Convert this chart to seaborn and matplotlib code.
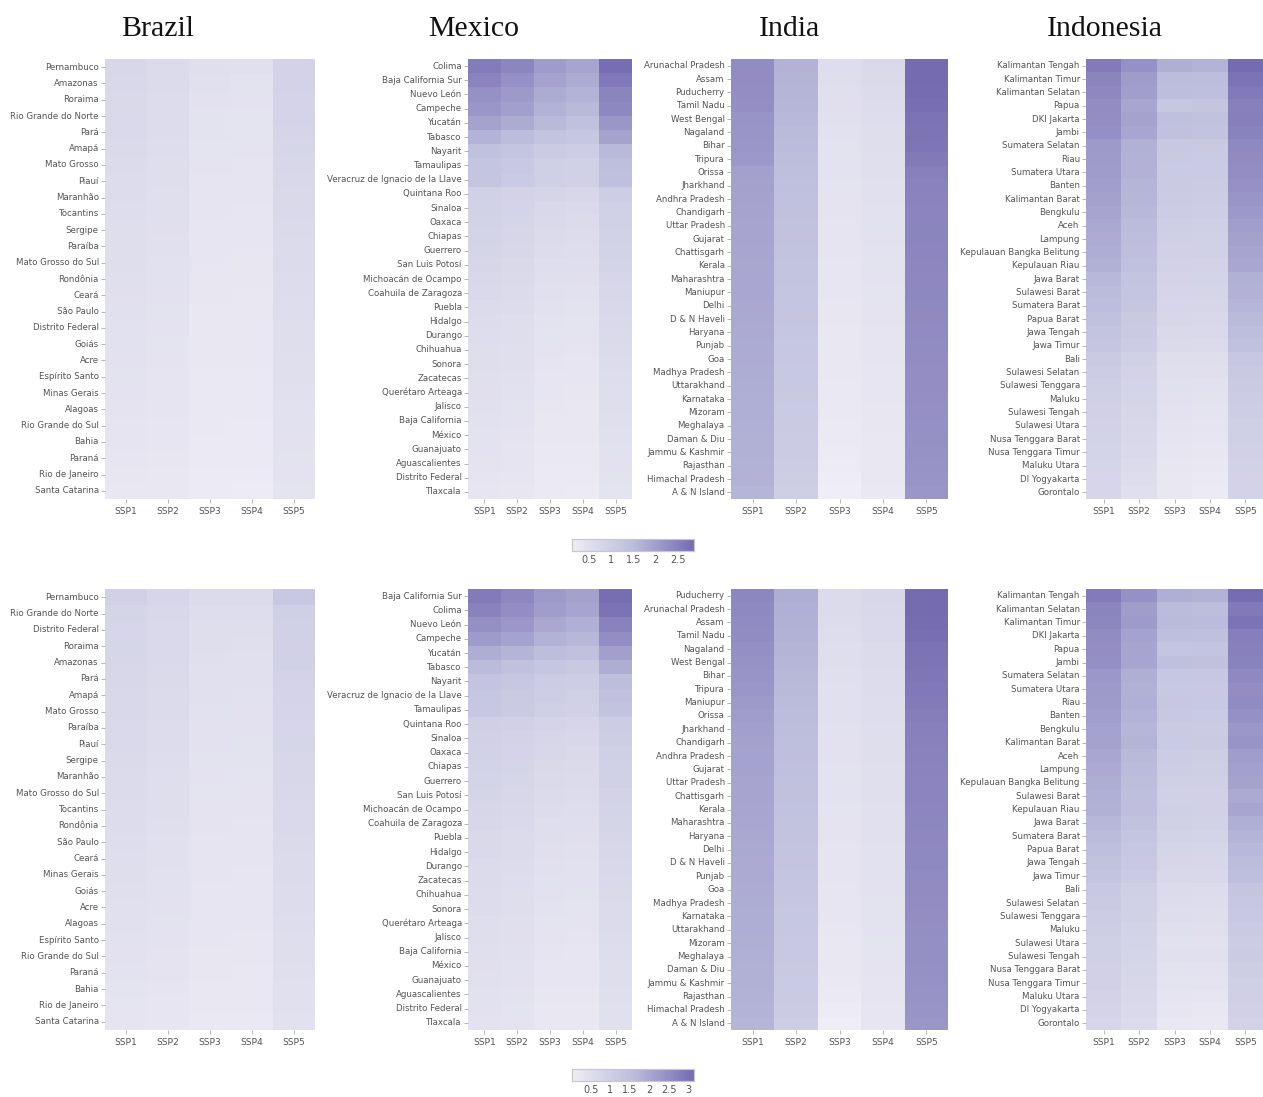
import numpy as np
import pandas as pd
import matplotlib
matplotlib.use("Agg")
import matplotlib.pyplot as plt
from matplotlib.colors import LinearSegmentedColormap
from matplotlib.ticker import FuncFormatter
import seaborn as sns

scenarios = ["SSP1", "SSP2", "SSP3", "SSP4", "SSP5"]
countries = ["Brazil", "Mexico", "India", "Indonesia"]

# ---------------- top row ----------------
brazil_top = ["Pernambuco", "Amazonas", "Roraima", "Rio Grande do Norte", "Pará", "Amapá",
              "Mato Grosso", "Piauí", "Maranhão", "Tocantins", "Sergipe", "Paraíba",
              "Mato Grosso do Sul", "Rondônia", "Ceará", "São Paulo", "Distrito Federal",
              "Goiás", "Acre", "Espírito Santo", "Minas Gerais", "Alagoas",
              "Rio Grande do Sul", "Bahia", "Paraná", "Rio de Janeiro", "Santa Catarina"]
brazil_top_ssp1 = [0.74, 0.72, 0.70, 0.69, 0.68, 0.65, 0.63, 0.61, 0.59, 0.58, 0.56, 0.55, 0.53, 0.52,
                   0.50, 0.49, 0.47, 0.46, 0.45, 0.43, 0.42, 0.40, 0.38, 0.37, 0.35, 0.32, 0.30]
brazil_top_ssp2 = [0.64, 0.63, 0.61, 0.60, 0.59, 0.57, 0.55, 0.54, 0.52, 0.51, 0.50, 0.48, 0.47, 0.46,
                   0.45, 0.43, 0.42, 0.41, 0.40, 0.38, 0.37, 0.36, 0.34, 0.33, 0.32, 0.30, 0.28]
brazil_top_ssp3 = [0.52, 0.48, 0.45, 0.44, 0.43, 0.41, 0.40, 0.38, 0.37, 0.36, 0.35, 0.34, 0.33, 0.32,
                   0.31, 0.30, 0.29, 0.28, 0.27, 0.26, 0.25, 0.25, 0.24, 0.23, 0.22, 0.20, 0.19]
brazil_top_ssp4 = [0.48, 0.44, 0.42, 0.41, 0.41, 0.40, 0.38, 0.37, 0.36, 0.35, 0.34, 0.33, 0.32, 0.31,
                   0.30, 0.29, 0.28, 0.27, 0.27, 0.26, 0.25, 0.24, 0.23, 0.22, 0.21, 0.19, 0.18]
brazil_top_ssp5 = [0.88, 0.86, 0.85, 0.83, 0.82, 0.78, 0.75, 0.72, 0.70, 0.68, 0.66, 0.64, 0.62, 0.61,
                   0.59, 0.57, 0.56, 0.54, 0.52, 0.51, 0.49, 0.47, 0.46, 0.45, 0.43, 0.42, 0.41]

mexico_top = ["Colima", "Baja California Sur", "Nuevo León", "Campeche", "Yucatán", "Tabasco",
              "Nayarit", "Tamaulipas", "Veracruz de Ignacio de la Llave", "Quintana Roo", "Sinaloa",
              "Oaxaca", "Chiapas", "Guerrero", "San Luis Potosí", "Michoacán de Ocampo",
              "Coahuila de Zaragoza", "Puebla", "Hidalgo", "Durango", "Chihuahua", "Sonora",
              "Zacatecas", "Querétaro Arteaga", "Jalisco", "Baja California", "México",
              "Guanajuato", "Aguascalientes", "Distrito Federal", "Tlaxcala"]
mexico_top_ssp1 = [2.58, 2.45, 2.23, 2.14, 1.93, 1.65, 1.38, 1.27, 1.24, 0.94, 0.90, 0.86, 0.83, 0.80, 0.76, 0.72,
                   0.68, 0.64, 0.61, 0.58, 0.56, 0.54, 0.52, 0.50, 0.48, 0.46, 0.44, 0.42, 0.40, 0.37, 0.35]
mexico_top_ssp2 = [2.40, 2.23, 2.09, 1.98, 1.79, 1.49, 1.27, 1.16, 1.13, 0.88, 0.84, 0.80, 0.77, 0.74, 0.70, 0.66,
                   0.63, 0.59, 0.56, 0.54, 0.52, 0.50, 0.48, 0.46, 0.44, 0.42, 0.40, 0.38, 0.36, 0.34, 0.32]
mexico_top_ssp3 = [2.04, 1.93, 1.79, 1.68, 1.54, 1.29, 1.07, 0.99, 0.96, 0.80, 0.72, 0.68, 0.64, 0.60, 0.56, 0.52,
                   0.49, 0.46, 0.43, 0.41, 0.39, 0.37, 0.35, 0.33, 0.31, 0.30, 0.28, 0.26, 0.25, 0.23, 0.21]
mexico_top_ssp4 = [1.90, 1.79, 1.65, 1.54, 1.38, 1.21, 1.02, 0.94, 0.91, 0.74, 0.68, 0.64, 0.60, 0.57, 0.53, 0.50,
                   0.47, 0.44, 0.41, 0.39, 0.37, 0.35, 0.33, 0.31, 0.30, 0.28, 0.27, 0.25, 0.24, 0.22, 0.20]
mexico_top_ssp5 = [2.82, 2.64, 2.42, 2.37, 2.14, 1.93, 1.54, 1.43, 1.40, 1.02, 0.98, 0.94, 0.90, 0.87, 0.83, 0.79,
                   0.75, 0.71, 0.68, 0.65, 0.62, 0.60, 0.57, 0.55, 0.53, 0.51, 0.49, 0.47, 0.45, 0.43, 0.41]

india_top = ["Arunachal Pradesh", "Assam", "Puducherry", "Tamil Nadu", "West Bengal", "Nagaland",
             "Bihar", "Tripura", "Orissa", "Jharkhand", "Andhra Pradesh", "Chandigarh",
             "Uttar Pradesh", "Gujarat", "Chattisgarh", "Kerala", "Maharashtra", "Maniupur",
             "Delhi", "D & N Haveli", "Haryana", "Punjab", "Goa", "Madhya Pradesh",
             "Uttarakhand", "Karnataka", "Mizoram", "Meghalaya", "Daman & Diu",
             "Jammu & Kashmir", "Rajasthan", "Himachal Pradesh", "A & N Island"]
india_top_ssp1 = [2.31, 2.30, 2.29, 2.27, 2.17, 2.15, 2.14, 2.10, 1.97, 1.95, 1.93, 1.91, 1.90, 1.89, 1.88, 1.86, 1.85,
                  1.84, 1.83, 1.82, 1.80, 1.79, 1.78, 1.77, 1.75, 1.74, 1.73, 1.72, 1.71, 1.69, 1.68, 1.66, 1.62]
india_top_ssp2 = [1.66, 1.64, 1.62, 1.60, 1.55, 1.52, 1.50, 1.47, 1.43, 1.40, 1.38, 1.36, 1.35, 1.33, 1.32, 1.30, 1.29,
                  1.27, 1.26, 1.24, 1.23, 1.21, 1.20, 1.18, 1.17, 1.15, 1.13, 1.11, 1.09, 1.07, 1.05, 1.03, 1.00]
india_top_ssp3 = [0.58, 0.55, 0.52, 0.50, 0.48, 0.46, 0.44, 0.43, 0.42, 0.41, 0.40, 0.39, 0.38, 0.37, 0.36, 0.35, 0.34,
                  0.33, 0.32, 0.31, 0.30, 0.29, 0.28, 0.27, 0.26, 0.25, 0.24, 0.23, 0.21, 0.19, 0.17, 0.14, 0.11]
india_top_ssp4 = [0.69, 0.66, 0.63, 0.61, 0.58, 0.56, 0.54, 0.52, 0.51, 0.49, 0.48, 0.47, 0.46, 0.45, 0.44, 0.43, 0.42,
                  0.41, 0.40, 0.39, 0.38, 0.37, 0.36, 0.35, 0.34, 0.33, 0.32, 0.31, 0.30, 0.29, 0.28, 0.27, 0.25]
india_top_ssp5 = [2.86, 2.85, 2.84, 2.80, 2.72, 2.70, 2.68, 2.62, 2.50, 2.48, 2.46, 2.44, 2.43, 2.42, 2.41, 2.39, 2.38,
                  2.37, 2.35, 2.34, 2.33, 2.31, 2.30, 2.29, 2.28, 2.26, 2.25, 2.23, 2.22, 2.21, 2.19, 2.17, 2.14]

indonesia_top = ["Kalimantan Tengah", "Kalimantan Timur", "Kalimantan Selatan", "Papua", "DKI Jakarta",
                 "Jambi", "Sumatera Selatan", "Riau", "Sumatera Utara", "Banten", "Kalimantan Barat",
                 "Bengkulu", "Aceh", "Lampung", "Kepulauan Bangka Belitung", "Kepulauan Riau",
                 "Jawa Barat", "Sulawesi Barat", "Sumatera Barat", "Papua Barat", "Jawa Tengah",
                 "Jawa Timur", "Bali", "Sulawesi Selatan", "Sulawesi Tenggara", "Maluku",
                 "Sulawesi Tengah", "Sulawesi Utara", "Nusa Tenggara Barat", "Nusa Tenggara Timur",
                 "Maluku Utara", "DI Yogyakarta", "Gorontalo"]
indonesia_top_ssp1 = [2.59, 2.42, 2.38, 2.31, 2.28, 2.25, 2.09, 2.07, 2.04, 2.00, 1.95, 1.90, 1.82, 1.78, 1.75, 1.70, 1.55,
                      1.50, 1.45, 1.38, 1.30, 1.25, 1.10, 1.05, 1.00, 0.96, 0.93, 0.90, 0.87, 0.84, 0.81, 0.79, 0.76]
indonesia_top_ssp2 = [2.23, 2.04, 2.00, 1.87, 1.93, 1.88, 1.70, 1.68, 1.66, 1.62, 1.60, 1.55, 1.50, 1.45, 1.42, 1.38, 1.30,
                      1.26, 1.22, 1.15, 1.10, 1.05, 0.92, 0.88, 0.84, 0.80, 0.77, 0.74, 0.71, 0.68, 0.64, 0.58, 0.52]
indonesia_top_ssp3 = [1.73, 1.49, 1.46, 1.21, 1.40, 1.36, 1.16, 1.15, 1.13, 1.10, 1.08, 1.05, 1.00, 0.96, 0.93, 0.90, 0.85,
                      0.82, 0.79, 0.75, 0.70, 0.66, 0.56, 0.52, 0.49, 0.45, 0.42, 0.39, 0.36, 0.33, 0.31, 0.29, 0.27]
indonesia_top_ssp4 = [1.65, 1.45, 1.43, 1.25, 1.35, 1.32, 1.15, 1.13, 1.11, 1.08, 1.05, 1.02, 0.98, 0.95, 0.92, 0.88, 0.83,
                      0.80, 0.77, 0.72, 0.68, 0.64, 0.54, 0.50, 0.47, 0.43, 0.40, 0.37, 0.34, 0.31, 0.27, 0.23, 0.19]
indonesia_top_ssp5 = [2.85, 2.72, 2.62, 2.50, 2.52, 2.48, 2.35, 2.32, 2.28, 2.22, 2.15, 2.10, 2.00, 1.95, 1.90, 1.85, 1.70,
                      1.66, 1.60, 1.52, 1.45, 1.38, 1.20, 1.15, 1.10, 1.05, 1.02, 0.99, 0.96, 0.93, 0.90, 0.88, 0.86]

# ---------------- bottom row ----------------
brazil_bottom = ["Pernambuco", "Rio Grande do Norte", "Distrito Federal", "Roraima", "Amazonas", "Pará",
                 "Amapá", "Mato Grosso", "Paraíba", "Piauí", "Sergipe", "Maranhão",
                 "Mato Grosso do Sul", "Tocantins", "Rondônia", "São Paulo", "Ceará", "Minas Gerais",
                 "Goiás", "Acre", "Alagoas", "Espírito Santo", "Rio Grande do Sul", "Paraná", "Bahia",
                 "Rio de Janeiro", "Santa Catarina"]
brazil_bottom_ssp1 = [0.96, 0.82, 0.80, 0.78, 0.77, 0.75, 0.72, 0.70, 0.68, 0.66, 0.64, 0.62, 0.60, 0.58,
                      0.56, 0.54, 0.52, 0.50, 0.48, 0.46, 0.44, 0.42, 0.40, 0.38, 0.36, 0.33, 0.31]
brazil_bottom_ssp2 = [0.80, 0.70, 0.68, 0.67, 0.66, 0.64, 0.62, 0.60, 0.58, 0.56, 0.55, 0.53, 0.51, 0.50,
                      0.48, 0.46, 0.45, 0.43, 0.42, 0.40, 0.38, 0.37, 0.35, 0.34, 0.32, 0.30, 0.28]
brazil_bottom_ssp3 = [0.62, 0.55, 0.53, 0.50, 0.48, 0.46, 0.44, 0.42, 0.41, 0.40, 0.39, 0.37, 0.36, 0.35,
                      0.34, 0.33, 0.32, 0.31, 0.30, 0.29, 0.28, 0.27, 0.26, 0.25, 0.23, 0.21, 0.19]
brazil_bottom_ssp4 = [0.60, 0.54, 0.52, 0.48, 0.46, 0.44, 0.42, 0.41, 0.40, 0.39, 0.38, 0.36, 0.35, 0.34,
                      0.33, 0.32, 0.31, 0.30, 0.29, 0.28, 0.27, 0.26, 0.25, 0.24, 0.22, 0.20, 0.18]
brazil_bottom_ssp5 = [1.21, 1.02, 0.98, 0.95, 0.93, 0.90, 0.86, 0.83, 0.80, 0.78, 0.75, 0.73, 0.70, 0.68,
                      0.66, 0.64, 0.62, 0.60, 0.58, 0.56, 0.54, 0.52, 0.50, 0.48, 0.46, 0.44, 0.42]

mexico_bottom = ["Baja California Sur", "Colima", "Nuevo León", "Campeche", "Yucatán", "Tabasco",
                 "Nayarit", "Veracruz de Ignacio de la Llave", "Tamaulipas", "Quintana Roo", "Sinaloa",
                 "Oaxaca", "Chiapas", "Guerrero", "San Luis Potosí", "Michoacán de Ocampo",
                 "Coahuila de Zaragoza", "Puebla", "Hidalgo", "Durango", "Zacatecas", "Chihuahua",
                 "Sonora", "Querétaro Arteaga", "Jalisco", "Baja California", "México", "Guanajuato",
                 "Aguascalientes", "Distrito Federal", "Tlaxcala"]
mexico_bottom_ssp1 = [2.84, 2.70, 2.45, 2.25, 1.90, 1.60, 1.35, 1.30, 1.25, 1.00, 0.96, 0.92, 0.88, 0.85, 0.81, 0.77,
                      0.73, 0.69, 0.66, 0.63, 0.60, 0.58, 0.56, 0.53, 0.51, 0.49, 0.47, 0.45, 0.42, 0.40, 0.37]
mexico_bottom_ssp2 = [2.62, 2.50, 2.30, 2.10, 1.75, 1.45, 1.25, 1.20, 1.15, 0.95, 0.90, 0.86, 0.82, 0.79, 0.75, 0.71,
                      0.67, 0.63, 0.60, 0.58, 0.55, 0.53, 0.51, 0.49, 0.47, 0.45, 0.43, 0.41, 0.38, 0.36, 0.34]
mexico_bottom_ssp3 = [2.27, 2.20, 1.98, 1.80, 1.55, 1.30, 1.10, 1.05, 1.00, 0.85, 0.77, 0.73, 0.69, 0.65, 0.61, 0.57,
                      0.53, 0.50, 0.47, 0.45, 0.42, 0.40, 0.38, 0.36, 0.34, 0.32, 0.30, 0.28, 0.26, 0.24, 0.22]
mexico_bottom_ssp4 = [2.12, 2.05, 1.85, 1.70, 1.45, 1.20, 1.05, 1.00, 0.95, 0.80, 0.73, 0.69, 0.65, 0.61, 0.57, 0.54,
                      0.50, 0.47, 0.45, 0.42, 0.40, 0.38, 0.36, 0.34, 0.32, 0.30, 0.29, 0.27, 0.25, 0.23, 0.21]
mexico_bottom_ssp5 = [3.10, 3.00, 2.70, 2.50, 2.15, 1.90, 1.55, 1.45, 1.40, 1.10, 1.06, 1.02, 0.97, 0.93, 0.89, 0.85,
                      0.81, 0.77, 0.74, 0.71, 0.68, 0.65, 0.62, 0.60, 0.58, 0.55, 0.53, 0.51, 0.49, 0.46, 0.44]

india_bottom = ["Puducherry", "Arunachal Pradesh", "Assam", "Tamil Nadu", "Nagaland", "West Bengal",
                "Bihar", "Tripura", "Maniupur", "Orissa", "Jharkhand", "Chandigarh", "Andhra Pradesh",
                "Gujarat", "Uttar Pradesh", "Chattisgarh", "Kerala", "Maharashtra", "Haryana", "Delhi",
                "D & N Haveli", "Punjab", "Goa", "Madhya Pradesh", "Karnataka", "Uttarakhand",
                "Mizoram", "Meghalaya", "Daman & Diu", "Jammu & Kashmir", "Rajasthan",
                "Himachal Pradesh", "A & N Island"]
india_bottom_ssp1 = [2.62, 2.58, 2.55, 2.52, 2.45, 2.40, 2.36, 2.32, 2.28, 2.20, 2.15, 2.12, 2.10, 2.08, 2.06, 2.04, 2.02,
                     2.00, 1.98, 1.97, 1.95, 1.94, 1.92, 1.91, 1.89, 1.88, 1.86, 1.85, 1.83, 1.82, 1.80, 1.78, 1.74]
india_bottom_ssp2 = [1.88, 1.85, 1.82, 1.80, 1.75, 1.72, 1.68, 1.65, 1.62, 1.58, 1.55, 1.52, 1.50, 1.48, 1.46, 1.44, 1.42,
                     1.40, 1.38, 1.36, 1.35, 1.33, 1.31, 1.29, 1.27, 1.25, 1.23, 1.21, 1.19, 1.17, 1.15, 1.12, 1.08]
india_bottom_ssp3 = [0.62, 0.60, 0.57, 0.55, 0.52, 0.50, 0.48, 0.46, 0.45, 0.44, 0.42, 0.41, 0.40, 0.39, 0.38, 0.37, 0.36,
                     0.35, 0.34, 0.33, 0.32, 0.31, 0.30, 0.28, 0.27, 0.26, 0.24, 0.22, 0.20, 0.17, 0.14, 0.09, 0.02]
india_bottom_ssp4 = [0.74, 0.71, 0.68, 0.66, 0.63, 0.61, 0.59, 0.57, 0.55, 0.54, 0.52, 0.51, 0.50, 0.49, 0.48, 0.47, 0.46,
                     0.45, 0.44, 0.43, 0.42, 0.41, 0.40, 0.39, 0.38, 0.37, 0.36, 0.35, 0.34, 0.33, 0.32, 0.30, 0.28]
india_bottom_ssp5 = [3.15, 3.14, 3.12, 3.08, 3.00, 2.97, 2.94, 2.90, 2.85, 2.78, 2.75, 2.73, 2.71, 2.69, 2.67, 2.66, 2.64,
                     2.62, 2.60, 2.58, 2.57, 2.55, 2.53, 2.51, 2.50, 2.48, 2.46, 2.45, 2.43, 2.41, 2.39, 2.37, 2.33]

indonesia_bottom = ["Kalimantan Tengah", "Kalimantan Selatan", "Kalimantan Timur", "DKI Jakarta", "Papua",
                    "Jambi", "Sumatera Selatan", "Sumatera Utara", "Riau", "Banten", "Bengkulu",
                    "Kalimantan Barat", "Aceh", "Lampung", "Kepulauan Bangka Belitung", "Sulawesi Barat",
                    "Kepulauan Riau", "Jawa Barat", "Sumatera Barat", "Papua Barat", "Jawa Tengah",
                    "Jawa Timur", "Bali", "Sulawesi Selatan", "Sulawesi Tenggara", "Maluku",
                    "Sulawesi Utara", "Sulawesi Tengah", "Nusa Tenggara Barat", "Nusa Tenggara Timur",
                    "Maluku Utara", "DI Yogyakarta", "Gorontalo"]
indonesia_bottom_ssp1 = [2.84, 2.66, 2.62, 2.52, 2.50, 2.46, 2.30, 2.26, 2.24, 2.18, 2.10, 2.08, 1.99, 1.94, 1.90, 1.85,
                         1.82, 1.70, 1.60, 1.52, 1.43, 1.37, 1.22, 1.16, 1.10, 1.06, 1.02, 0.99, 0.96, 0.93, 0.89, 0.85, 0.80]
indonesia_bottom_ssp2 = [2.43, 2.20, 2.24, 2.10, 2.05, 2.06, 1.86, 1.83, 1.85, 1.78, 1.71, 1.75, 1.65, 1.60, 1.56, 1.52,
                         1.50, 1.43, 1.34, 1.27, 1.21, 1.16, 1.02, 0.97, 0.93, 0.88, 0.84, 0.82, 0.79, 0.75, 0.71, 0.66, 0.61]
indonesia_bottom_ssp3 = [1.87, 1.60, 1.63, 1.52, 1.33, 1.49, 1.27, 1.24, 1.26, 1.21, 1.15, 1.18, 1.10, 1.05, 1.02, 0.98,
                         0.99, 0.93, 0.87, 0.82, 0.77, 0.72, 0.61, 0.57, 0.54, 0.49, 0.43, 0.46, 0.39, 0.36, 0.32, 0.27, 0.22]
indonesia_bottom_ssp4 = [1.80, 1.57, 1.60, 1.48, 1.37, 1.45, 1.26, 1.22, 1.24, 1.18, 1.12, 1.15, 1.07, 1.04, 1.01, 0.96,
                         0.97, 0.91, 0.85, 0.79, 0.75, 0.70, 0.59, 0.55, 0.52, 0.47, 0.41, 0.44, 0.37, 0.34, 0.30, 0.24, 0.18]
indonesia_bottom_ssp5 = [3.12, 2.87, 2.98, 2.76, 2.74, 2.72, 2.58, 2.50, 2.54, 2.44, 2.30, 2.36, 2.20, 2.14, 2.09, 1.95,
                         2.03, 1.87, 1.76, 1.67, 1.59, 1.52, 1.32, 1.26, 1.21, 1.15, 1.09, 1.12, 1.06, 1.02, 0.99, 0.96, 0.90]

top_ticks = [0.5, 1, 1.5, 2, 2.5]
bottom_ticks = [0.5, 1, 1.5, 2, 2.5, 3]


def frame(regions, *cols):
    return pd.DataFrame(dict(zip(scenarios, cols)), index=regions)


top_row = [
    frame(brazil_top, brazil_top_ssp1, brazil_top_ssp2, brazil_top_ssp3, brazil_top_ssp4, brazil_top_ssp5),
    frame(mexico_top, mexico_top_ssp1, mexico_top_ssp2, mexico_top_ssp3, mexico_top_ssp4, mexico_top_ssp5),
    frame(india_top, india_top_ssp1, india_top_ssp2, india_top_ssp3, india_top_ssp4, india_top_ssp5),
    frame(indonesia_top, indonesia_top_ssp1, indonesia_top_ssp2, indonesia_top_ssp3, indonesia_top_ssp4,
          indonesia_top_ssp5),
]
bottom_row = [
    frame(brazil_bottom, brazil_bottom_ssp1, brazil_bottom_ssp2, brazil_bottom_ssp3, brazil_bottom_ssp4,
          brazil_bottom_ssp5),
    frame(mexico_bottom, mexico_bottom_ssp1, mexico_bottom_ssp2, mexico_bottom_ssp3, mexico_bottom_ssp4,
          mexico_bottom_ssp5),
    frame(india_bottom, india_bottom_ssp1, india_bottom_ssp2, india_bottom_ssp3, india_bottom_ssp4,
          india_bottom_ssp5),
    frame(indonesia_bottom, indonesia_bottom_ssp1, indonesia_bottom_ssp2, indonesia_bottom_ssp3,
          indonesia_bottom_ssp4, indonesia_bottom_ssp5),
]

cmap = LinearSegmentedColormap.from_list("lavender", ["#efedf5", "#bcbddc", "#756bb1"])

W, H = 1263, 1097
fig = plt.figure(figsize=(W / 100, H / 100), dpi=100)
fig.patch.set_facecolor("white")


def px_axes(x0, y0, x1, y1):
    return fig.add_axes([x0 / W, 1 - y1 / H, (x1 - x0) / W, (y1 - y0) / H])


# heatmap left/right edges in pixels for the four columns
col_edges = [(105, 315), (468, 632), (731, 948), (1086, 1263)]
row_edges = [(59, 499), (589, 1030)]
cbar_edges = [(572, 539, 694, 551), (572, 1069, 694, 1081)]
text_col = "#555555"

for r, (panels, ticks) in enumerate([(top_row, top_ticks), (bottom_row, bottom_ticks)]):
    vmin = min(df.values.min() for df in panels)
    vmax = max(df.values.max() for df in panels)
    cx0, cy0, cx1, cy1 = cbar_edges[r]
    cax = px_axes(cx0, cy0, cx1, cy1)
    for c, df in enumerate(panels):
        x0, x1 = col_edges[c]
        y0, y1 = row_edges[r]
        ax = px_axes(x0, y0, x1, y1)
        first = c == 0
        sns.heatmap(df, ax=ax, cmap=cmap, vmin=vmin, vmax=vmax,
                    cbar=first, cbar_ax=cax if first else None,
                    cbar_kws={"orientation": "horizontal", "ticks": ticks} if first else None,
                    xticklabels=scenarios, yticklabels=list(df.index), linewidths=0)
        ax.set_xlabel("")
        ax.set_ylabel("")
        ax.tick_params(axis="both", length=3, width=0.6, color="#aaaaaa", pad=1.5,
                       labelsize=6.2, labelcolor=text_col)
        ax.tick_params(axis="x", pad=2.5, labelsize=6.6)
        plt.setp(ax.get_yticklabels(), rotation=0)
        plt.setp(ax.get_xticklabels(), rotation=0)
    cax.tick_params(length=0, pad=3, labelsize=7, labelcolor=text_col)
    cax.xaxis.set_major_formatter(FuncFormatter(lambda v, _: f"{v:g}"))
    # thin grey frame around the colour bar
    for sp in cax.spines.values():
        sp.set_visible(True)
        sp.set_edgecolor("#c8c8c8")
        sp.set_linewidth(0.8)
    for coll in cax.collections:
        cb = getattr(coll, "colorbar", None)
        if cb is not None:
            cb.outline.set_visible(True)
            cb.outline.set_edgecolor("#c8c8c8")
            cb.outline.set_linewidth(0.8)

for c, name in enumerate(countries):
    xc = (c + 0.5) * W / 4
    fig.text(xc / W, 1 - 36 / H, name, ha="center", va="baseline",
             family="Liberation Serif", fontsize=21.5, color="#111111")

fig.savefig("out.png", dpi=100, facecolor="white")
